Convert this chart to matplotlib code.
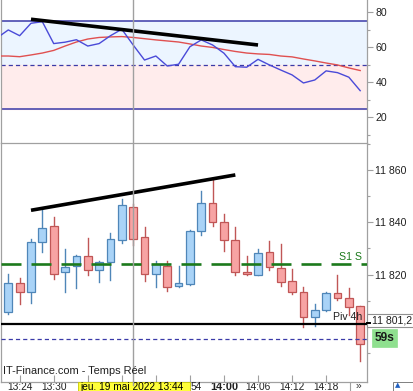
import matplotlib
matplotlib.use('Agg')
import matplotlib.pyplot as plt
from matplotlib.patches import Rectangle
from matplotlib.lines import Line2D

plt.rcParams['font.family'] = ['Liberation Sans', 'DejaVu Sans']
plt.rcParams['lines.scale_dashes'] = False

# ---------------- data ----------------
times = ["13:22", "13:24", "13:26", "13:28", "13:30", "13:32", "13:34", "13:36",
         "13:38", "13:40", "13:42", "13:44", "13:46", "13:48", "13:50", "13:52",
         "13:54", "13:56", "13:58", "14:00", "14:02", "14:04", "14:06", "14:08",
         "14:10", "14:12", "14:14", "14:16", "14:18", "14:20", "14:22", "14:24"]
opens = [11805.6, 11816.7, 11813.3, 11832.5, 11838.5, 11820.9, 11823.2, 11827.0,
         11821.7, 11824.7, 11833.1, 11845.7, 11834.3, 11820.1, 11823.2, 11815.6,
         11816.3, 11836.6, 11847.3, 11840.0, 11833.1, 11820.9, 11819.8, 11828.6,
         11822.4, 11817.5, 11813.3, 11803.7, 11806.4, 11812.9, 11811.0, 11807.9]
highs = [11820.3, 11818.6, 11833.5, 11844.7, 11841.9, 11829.8, 11827.5, 11833.9,
         11825.2, 11835.8, 11848.8, 11847.0, 11838.1, 11825.1, 11825.1, 11823.2,
         11837.0, 11851.9, 11856.8, 11843.1, 11838.1, 11827.0, 11829.7, 11832.8,
         11831.6, 11822.1, 11815.2, 11808.7, 11813.3, 11819.8, 11814.8, 11808.2]
lows = [11805.0, 11808.7, 11809.1, 11828.8, 11818.2, 11813.5, 11814.8, 11819.8,
        11817.1, 11817.9, 11832.0, 11831.3, 11817.5, 11815.2, 11813.6, 11815.4,
        11816.2, 11835.0, 11838.5, 11828.9, 11819.8, 11819.8, 11819.7, 11821.7,
        11815.6, 11812.5, 11799.9, 11800.3, 11806.3, 11810.2, 11804.5, 11786.9]
closes = [11816.7, 11813.3, 11832.4, 11837.7, 11820.1, 11822.8, 11827.0, 11821.7,
          11824.7, 11833.5, 11846.5, 11833.5, 11820.1, 11824.0, 11815.2, 11816.7,
          11836.6, 11847.3, 11840.0, 11833.1, 11820.9, 11820.1, 11828.2, 11822.8,
          11817.1, 11813.3, 11803.7, 11806.4, 11812.9, 11811.0, 11807.5, 11793.4]
rsi = [69.9, 66.6, 73.7, 74.6, 62.1, 62.9, 64.3, 60.7, 62.1, 66.6, 70.3, 61.3,
       52.7, 55.0, 49.3, 50.3, 60.3, 64.2, 61.3, 56.6, 48.9, 48.6, 53.1, 49.9,
       47.0, 44.2, 39.6, 41.3, 46.5, 45.5, 42.9, 35.2]
rsi_ma = [55.0, 54.6, 55.6, 56.7, 58.2, 60.7, 63.0, 64.7, 65.6, 65.9, 66.1, 65.6,
          64.9, 64.2, 63.6, 63.0, 61.9, 60.7, 59.9, 58.7, 57.6, 56.7, 56.2, 55.9,
          55.0, 54.5, 53.3, 52.2, 51.0, 49.9, 48.2, 46.7]
rsi_before = 65.3       # value of the bar just before the visible window
rsi_ma_before = 55.0
rsi_levels = [25, 50, 75]
rsi_trend_t = ["13:26", "14:06"]
rsi_trend_v = [76.0, 61.3]
price_trend_t = ["13:26", "14:02"]
price_trend_v = [11844.6, 11858.1]
s1_level = 11824.1
piv4h_level = 11801.2
low_dash_level = 11795.4
cross_time = "13:44"
cross_label = "jeu. 19 mai 2022 13:44"
tick_times = ["13:24", "13:30", "13:36", "13:42", "13:48", "13:54",
              "14:00", "14:06", "14:12", "14:18"]
hidden_ticks = ["13:36", "13:42", "13:48", "13:54"]   # covered by the date box
price_ticks = [11820, 11840, 11860]
price_tick_labels = ["11 820", "11 840", "11 860"]
rsi_ticks = [20, 40, 60, 80]

# ---------------- layout ----------------
W, H = 413, 391
fig = plt.figure(figsize=(W / 100, H / 100), dpi=100)


def frac(x0, y0, x1, y1):
    return [x0 / W, 1 - y1 / H, (x1 - x0) / W, (y1 - y0) / H]


ax1 = fig.add_axes(frac(1, 0, 367, 143))
ax2 = fig.add_axes(frac(1, 143, 367, 381.7))

xs = list(range(len(times)))
xpos = {t: i for i, t in enumerate(times)}
XL = (-0.643, 31.6)
grey = '#a0a0a0'
txtsize = 7.6
xtxtsize = 7.3

# ---------------- RSI panel ----------------
ax1.set_xlim(*XL)
ax1.set_ylim(5.3, 87.0)
ax1.axhspan(rsi_levels[1], rsi_levels[2], color='#ecf5ff', zorder=0)
ax1.axhspan(rsi_levels[0], rsi_levels[1], color='#ffecec', zorder=0)
ax1.axhline(rsi_levels[2], color='#3a3aa8', lw=1.1, zorder=1)
ax1.axhline(rsi_levels[0], color='#3a3aa8', lw=1.1, zorder=1)
ax1.axhline(rsi_levels[1], color='#3a3aa8', lw=0.9, ls=(0, (3.0, 2.2)), zorder=1)
ax1.plot([-1] + xs, [rsi_ma_before] + rsi_ma, color='#e05050', lw=1.0, zorder=3)
ax1.plot([-1] + xs, [rsi_before] + rsi, color='#4a4ad8', lw=1.0, zorder=4)
ax1.plot([xpos[t] for t in rsi_trend_t], rsi_trend_v, color='black', lw=2.6,
         solid_capstyle='butt', zorder=5)
ax1.axvline(xpos[cross_time], color=grey, lw=1.0, zorder=6)
ax1.yaxis.tick_right()
ax1.set_yticks(rsi_ticks)
ax1.set_yticks([10, 30, 50, 70], minor=True)
ax1.set_xticks([])
ax1.tick_params(axis='y', which='major', length=4, width=0.8, color=grey,
                labelsize=txtsize, pad=2, labelcolor='#202020')
ax1.tick_params(axis='y', which='minor', length=2.5, width=0.8, color=grey)
for s in ['top', 'bottom']:
    ax1.spines[s].set_visible(False)
for s in ['left', 'right']:
    ax1.spines[s].set_color(grey)
    ax1.spines[s].set_linewidth(0.9)

# ---------------- price panel ----------------
ax2.set_xlim(*XL)
ax2.set_ylim(11779.1, 11870.3)
up_face, up_edge = '#a9d3f7', '#4f86b8'
dn_face, dn_edge = '#f7a3a3', '#c05656'
bw = 0.68
for i in xs:
    o, h, l, c = opens[i], highs[i], lows[i], closes[i]
    up = c >= o
    fc, ec = (up_face, up_edge) if up else (dn_face, dn_edge)
    ax2.plot([i, i], [l, h], color=ec, lw=1.0, zorder=2)
    ax2.add_patch(Rectangle((i - bw / 2, min(o, c)), bw, max(abs(c - o), 0.35),
                            facecolor=fc, edgecolor=ec, lw=0.9, zorder=3))

ax2.axhline(s1_level, color='#1c7a1c', lw=1.9, ls=(0, (14.4, 7.2)), zorder=4)
ax2.axhline(piv4h_level, color='black', lw=1.6, zorder=4)
ax2.axhline(low_dash_level, color='#3a3aa8', lw=0.9, ls=(0, (3.0, 2.2)), zorder=4)
ax2.plot([xpos[t] for t in price_trend_t], price_trend_v, color='black', lw=2.6,
         solid_capstyle='butt', zorder=5)
ax2.axvline(xpos[cross_time], color=grey, lw=1.0, zorder=6)

ax2.text(0.986, s1_level + 0.8, "S1 S", transform=ax2.get_yaxis_transform(),
         ha='right', va='bottom', color='#1c7a1c', fontsize=txtsize, zorder=7)
ax2.text(0.986, 11803.9, "Piv 4h", transform=ax2.get_yaxis_transform(),
         ha='right', va='center', color='#202020', fontsize=txtsize, zorder=7)
ax2.text(0.006, 11783.2, "IT-Finance.com - Temps Réel", transform=ax2.get_yaxis_transform(),
         ha='left', va='center', color='#202020', fontsize=7.9, zorder=7)

ax2.yaxis.tick_right()
ax2.set_yticks(price_ticks)
ax2.set_yticklabels(price_tick_labels)
ax2.set_yticks([11790, 11800, 11810, 11830, 11850, 11870], minor=True)
ax2.tick_params(axis='y', which='major', length=4, width=0.8, color=grey,
                labelsize=txtsize, pad=2, labelcolor='#202020')
ax2.tick_params(axis='y', which='minor', length=2.5, width=0.8, color=grey)
ax2.set_xticks([xpos[t] for t in tick_times])
ax2.set_xticklabels(["" if t in hidden_ticks else t for t in tick_times])
ax2.tick_params(axis='x', direction='in', length=5, width=0.8, color=grey,
                labelsize=xtxtsize, pad=0.4, labelcolor='#202020')
for lab, t in zip(ax2.get_xticklabels(), tick_times):
    if t == "14:00":
        lab.set_fontweight('bold')
        lab.set_fontsize(7.9)
for s in ax2.spines.values():
    s.set_color(grey)
    s.set_linewidth(0.9)

# ---------------- overlays in figure space ----------------
ft = fig.transFigure


def fx(x):
    return x / W


def fy(y):
    return 1 - y / H


# crosshair date box
fig.patches.append(Rectangle((fx(78.3), fy(391.5)), fx(189.5) - fx(78.3), fy(382.2) - fy(391.5),
                             transform=ft, facecolor='#ffff3a', edgecolor='#c8c800',
                             lw=0.6, zorder=10))
fig.text(fx(80), fy(386.6), cross_label, ha='left', va='center',
         fontsize=xtxtsize, color='black', zorder=11)
fig.lines.append(Line2D([fx(133.3), fx(133.3)], [fy(382.2), fy(385)], transform=ft,
                        color=grey, lw=1.0, zorder=12))
# the tail of the covered "13:54" label
fig.text(fx(190.5), fy(386.6), hidden_ticks[-1][-2:], ha='left', va='center',
         fontsize=xtxtsize, color='#202020', zorder=11)

# price label box
fig.patches.append(Rectangle((fx(366.7), fy(326.7)), fx(420) - fx(366.7), fy(314) - fy(326.7),
                             transform=ft, facecolor='white', edgecolor='#909090',
                             lw=0.8, zorder=10))
fig.lines.append(Line2D([fx(366.7), fx(370)], [fy(322.7), fy(322.7)], transform=ft,
                        color='black', lw=1.4, zorder=11))
fig.text(fx(371.5), fy(320.5), "11 801,2", ha='left', va='center',
         fontsize=txtsize, color='#202020', zorder=11)

# countdown box
fig.patches.append(Rectangle((fx(371.7), fy(346.7)), fx(396.7) - fx(371.7), fy(329.3) - fy(346.7),
                             transform=ft, facecolor='#8fe08f', edgecolor='#8fe08f',
                             lw=0.5, zorder=10))
fig.text(fx(384.2), fy(338.2), "59s", ha='center', va='center', fontsize=8.6,
         fontweight='bold', color='#1a1a1a', zorder=11)

# scroll button
fig.lines.append(Line2D([fx(350), fx(350)], [fy(383.3), fy(391)], transform=ft,
                        color=grey, lw=0.8, zorder=11))
fig.text(fx(358.5), fy(386.2), "»", ha='center', va='center', fontsize=7.5,
         color='#303030', zorder=11)

# small icon bottom-right
fig.patches.append(Rectangle((fx(393), fy(392)), fx(413) - fx(393), fy(381.5) - fy(392),
                             transform=ft, facecolor='white', edgecolor='#808080',
                             lw=0.7, zorder=10))
fig.text(fx(397.5), fy(385), "▲", ha='center', va='center', fontsize=5,
         color='#2060c0', family='DejaVu Sans', zorder=11)

fig.savefig('out.png', dpi=100)
